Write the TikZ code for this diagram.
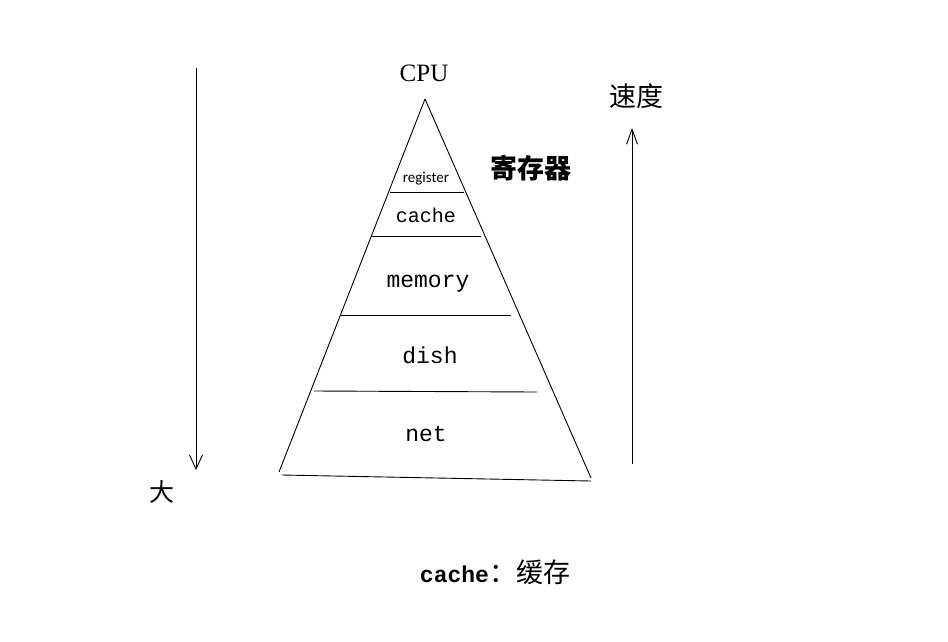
\documentclass[tikz,border=0pt]{standalone}
\usepackage{fontspec}
\setmainfont{Liberation Serif}
\newfontfamily\monofont{Liberation Mono}
\newfontfamily\cjk{Noto Sans CJK SC}
\newfontfamily\calib{Carlito}
\usetikzlibrary{arrows.meta}
\begin{document}
\begin{tikzpicture}[x=1pt,y=-1pt,line width=0.9pt,
  layer/.style={draw=none,inner sep=0pt,anchor=base,font=\monofont\fontsize{23}{23}\selectfont},
  cjklabel/.style={inner sep=0pt,font=\cjk\bfseries\fontsize{27}{27}\selectfont},
  edge/.style={line width=0.9pt},
  downarrow/.style={-{Straight Barb[length=14pt,width=13pt,line width=0.9pt]}},
  uparrow/.style={-{Straight Barb[length=15pt,width=11pt,line width=0.9pt]}}]
\useasboundingbox[fill=white] (0,0) rectangle (948,641);
% pyramid corners
\coordinate (apex) at (425,99);
\coordinate (bl) at (279,472);
\coordinate (br) at (591,478);
\coordinate (bl2) at (282,475);
\coordinate (br2) at (591,481);
\draw[edge] (apex) -- (bl);
\draw[edge] (apex) -- (br);
\draw[edge] (bl2) -- (br2);
% layer separators
\coordinate (r1) at (390,192); \coordinate (r2) at (464,192);
\coordinate (c1) at (371,236); \coordinate (c2) at (481,236);
\coordinate (m1) at (341,315); \coordinate (m2) at (511,315);
\coordinate (d1) at (314,391); \coordinate (d2) at (537,392);
\draw[edge] (r1) -- (r2);
\draw[edge] (c1) -- (c2);
\draw[edge] (m1) -- (m2);
\draw[edge] (d1) -- (d2);
% labels
\node[inner sep=0pt,anchor=base,font=\fontsize{25}{25}\selectfont] (cpu) at (424,81) {CPU};
\node[inner sep=0pt,anchor=base,font=\calib\fontsize{15}{15}\selectfont] (reg) at (426,182) {register};
\node[layer,font=\monofont\fontsize{20}{20}\selectfont] (cache) at (426,222) {cache};
\node[layer] (mem) at (428,287) {memory};
\node[layer] (dish) at (430,363) {dish};
\node[layer] (net) at (426,441) {net};
\node[cjklabel] (jcq) at (531,168) {寄存器};
\node[cjklabel,font=\cjk\fontsize{27}{27}\selectfont] (sd) at (636,96) {速度};
\node[cjklabel,font=\cjk\fontsize{25}{25}\selectfont] (da) at (162,492) {大};
\node[inner sep=0pt] (note) at (495,572) {\monofont\bfseries\fontsize{23}{23}\selectfont cache\cjk\mdseries\fontsize{27}{27}\selectfont ：缓存};
% arrows
\coordinate (la1) at (196,68);
\coordinate (la2) at (196,470);
\coordinate (ra1) at (632,464);
\coordinate (ra2) at (632,128);
\draw[downarrow] (la1) -- (la2);
\draw[uparrow] (ra1) -- (ra2);
\end{tikzpicture}
\end{document}
